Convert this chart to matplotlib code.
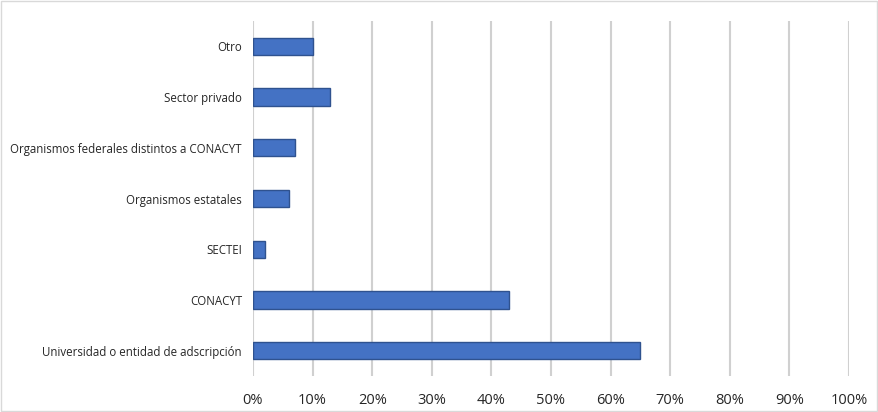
import matplotlib
matplotlib.use("Agg")
import matplotlib.pyplot as plt
from matplotlib.patches import Rectangle

categories = ["Universidad o entidad de adscripción", "CONACYT", "SECTEI",
              "Organismos estatales", "Organismos federales distintos a CONACYT",
              "Sector privado", "Otro"]
values = [65, 43, 2, 6, 7, 13, 10]
xticks = [0, 10, 20, 30, 40, 50, 60, 70, 80, 90, 100]
xticklabels = [f"{t}%" for t in xticks]

plt.rcParams['font.family'] = ['Open Sans', 'DejaVu Sans']

fig = plt.figure(figsize=(8.79, 4.12), dpi=100)
ax = fig.add_axes([253/879, 1 - 376/412, (849-253)/879, (376-21)/412])

ax.barh(range(len(categories)), values, height=0.34, color="#4472C4",
        edgecolor="#2F528F", linewidth=1.0, zorder=3)
ax.set_xlim(0, 100)
ax.set_ylim(-0.5, len(categories) - 0.5)
ax.set_xticks(xticks)
ax.set_xticklabels(xticklabels, fontsize=10.5, color="#262626")
ax.set_yticks(range(len(categories)))
ax.set_yticklabels(categories, fontsize=8.3, color="#262626")
ax.tick_params(axis='both', length=0)
ax.tick_params(axis='x', pad=12)
ax.tick_params(axis='y', pad=8)
ax.grid(axis='x', color="#D0D0D0", linewidth=1.5, zorder=0)
for s in ax.spines.values():
    s.set_visible(False)

fig.patches.append(Rectangle((0.001, 0.002), 0.997, 0.995, transform=fig.transFigure,
                             fill=False, edgecolor="#D9D9D9", linewidth=1.0))

fig.savefig("out.png", dpi=100)
